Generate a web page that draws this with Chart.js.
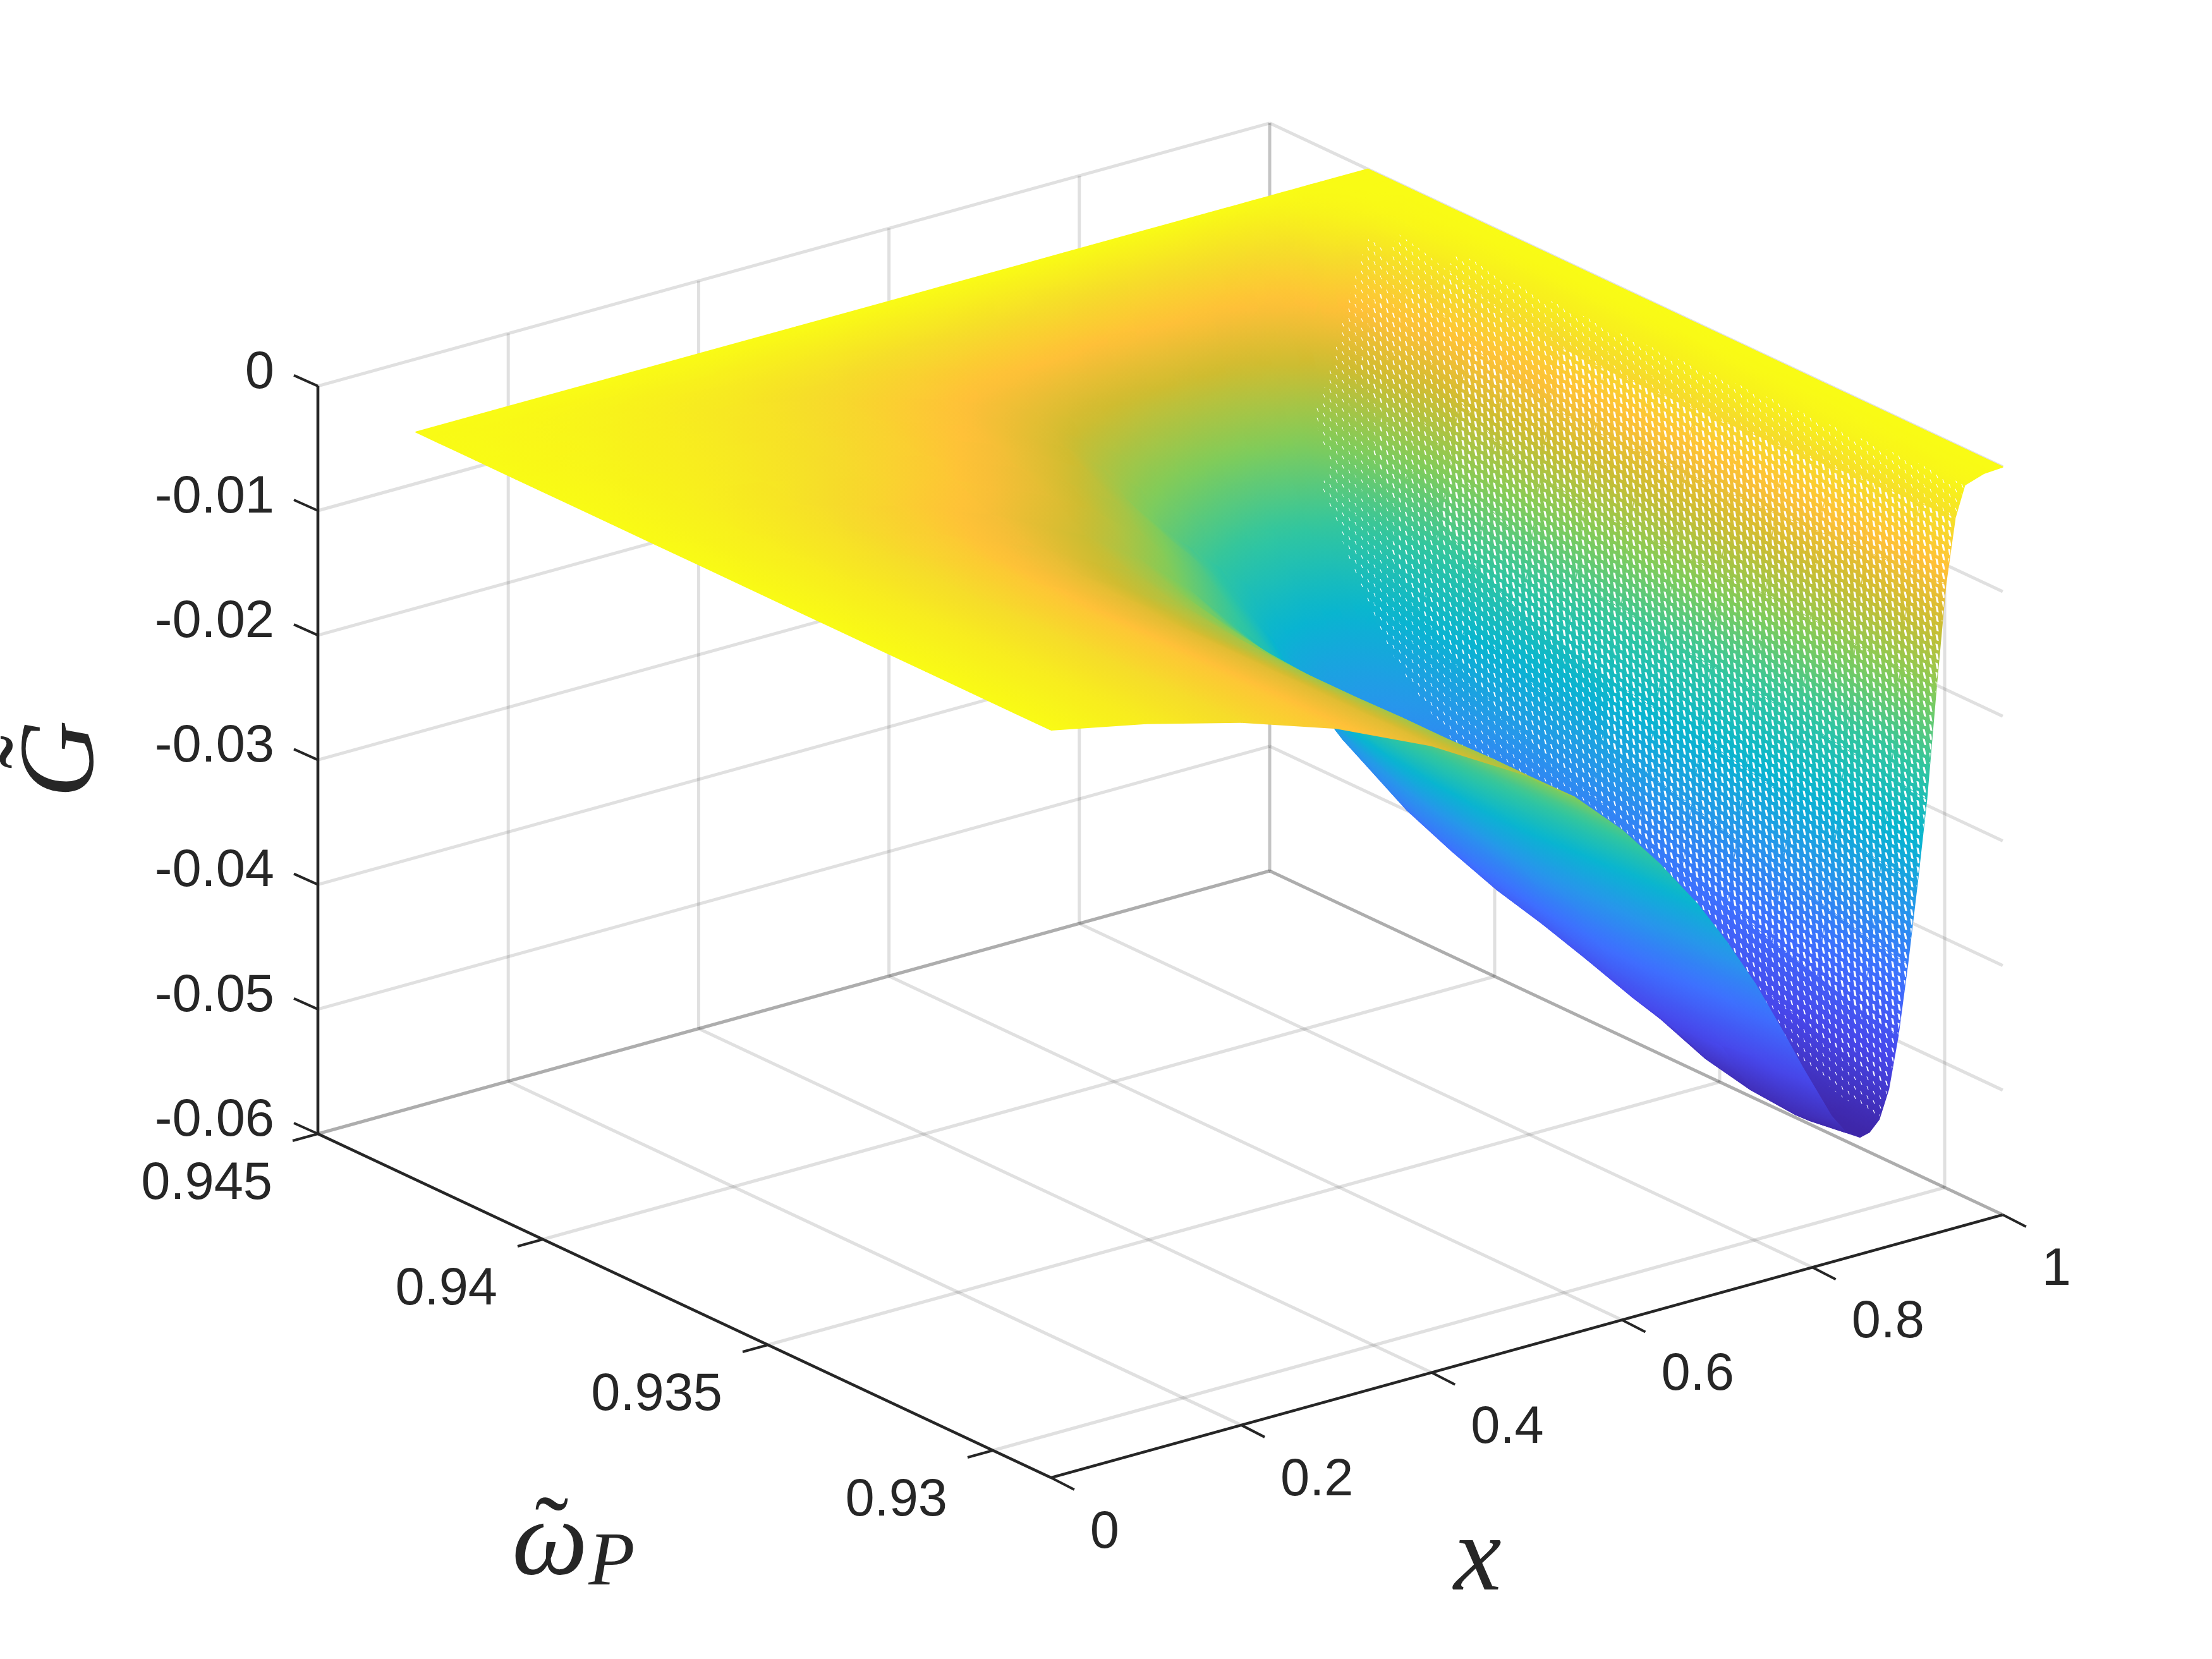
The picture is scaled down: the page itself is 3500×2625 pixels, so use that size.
<!DOCTYPE html>
<html>
<head>
<meta charset="utf-8">
<style>body{margin:0;background:#fff}canvas{display:block}</style>
<script src="https://cdn.jsdelivr.net/npm/chart.js@4/dist/chart.umd.min.js"></script>
</head>
<body>
<canvas id="c" width="3500" height="2625"></canvas>
<script>
// ── data ──
const xNodes = [0,.1,.2,.3,.4,.5,.55,.6,.64,.68,.71,.74,.77,.79,.82,.835,.85,.86,.87,.88,.89,.90,.91,.92,.93,.94,.95,.96,.98,1];
const wNodes = [.92871,.9295,.9305,.9315,.9325,.9335,.9345,.9355,.9365,.9375,.9385,.9393,.94,.9406,.9411,.9415,.9418,.9421,.9423,.9425,.9427,.94282];
const gValues = [
 [0,-.0016,-.0036,-.0062,-.0097,-.0142,-.0170,-.0207,-.0243,-.0284,-.0320,-.0360,-.0406,-.0438,-.0483,-.0499,-.0506,-.0504,-.0496,-.0474,-.0433,-.0378,-.0316,-.0250,-.0163,-.0082,-.0030,-.0006,-.0001,0],
 [0,-.0016,-.0036,-.0062,-.0097,-.0142,-.0171,-.0208,-.0245,-.0287,-.0324,-.0365,-.0412,-.0445,-.0495,-.0503,-.0505,-.0502,-.0493,-.0468,-.0428,-.0373,-.0312,-.0246,-.0160,-.0084,-.0032,-.0006,-.0001,0],
 [0,-.0016,-.0036,-.0062,-.0097,-.0143,-.0172,-.0210,-.0248,-.0290,-.0328,-.0370,-.0418,-.0450,-.0492,-.0498,-.0497,-.0491,-.0480,-.0453,-.0416,-.0363,-.0304,-.0240,-.0158,-.0085,-.0033,-.0007,-.0001,0],
 [0,-.0016,-.0036,-.0062,-.0097,-.0143,-.0173,-.0212,-.0251,-.0293,-.0331,-.0373,-.0421,-.0453,-.0484,-.0488,-.0487,-.0479,-.0468,-.0441,-.0405,-.0354,-.0296,-.0234,-.0154,-.0087,-.0036,-.0008,-.0001,0],
 [0,-.0016,-.0036,-.0062,-.0097,-.0144,-.0174,-.0213,-.0253,-.0295,-.0332,-.0373,-.0418,-.0445,-.0469,-.0472,-.0470,-.0464,-.0452,-.0427,-.0392,-.0343,-.0288,-.0228,-.0152,-.0089,-.0038,-.0009,-.0001,0],
 [0,-.0016,-.0036,-.0062,-.0097,-.0144,-.0174,-.0213,-.0252,-.0293,-.0329,-.0366,-.0408,-.0432,-.0455,-.0456,-.0453,-.0447,-.0436,-.0412,-.0380,-.0332,-.0280,-.0224,-.0152,-.0090,-.0040,-.0010,-.0001,0],
 [0,-.0016,-.0036,-.0062,-.0097,-.0143,-.0173,-.0212,-.0249,-.0288,-.0322,-.0356,-.0396,-.0420,-.0441,-.0441,-.0437,-.0430,-.0420,-.0397,-.0368,-.0323,-.0274,-.0219,-.0152,-.0090,-.0041,-.0012,-.0001,0],
 [0,-.0016,-.0035,-.0061,-.0095,-.0140,-.0170,-.0208,-.0244,-.0282,-.0314,-.0348,-.0387,-.0410,-.0430,-.0427,-.0422,-.0414,-.0405,-.0383,-.0356,-.0314,-.0268,-.0212,-.0150,-.0091,-.0042,-.0013,-.0002,0],
 [0,-.0015,-.0034,-.0059,-.0093,-.0136,-.0164,-.0200,-.0235,-.0272,-.0303,-.0336,-.0375,-.0396,-.0415,-.0411,-.0405,-.0397,-.0388,-.0367,-.0342,-.0303,-.0260,-.0207,-.0148,-.0091,-.0043,-.0014,-.0002,0],
 [0,-.0014,-.0032,-.0056,-.0087,-.0128,-.0155,-.0190,-.0224,-.0260,-.0289,-.0320,-.0358,-.0380,-.0398,-.0394,-.0388,-.0380,-.0370,-.0350,-.0325,-.0288,-.0248,-.0197,-.0142,-.0088,-.0042,-.0014,-.0002,0],
 [0,-.0012,-.0028,-.0050,-.0078,-.0116,-.0142,-.0175,-.0207,-.0240,-.0268,-.0300,-.0336,-.0357,-.0372,-.0368,-.0362,-.0354,-.0345,-.0325,-.0300,-.0266,-.0228,-.0180,-.0130,-.0080,-.0038,-.0014,-.0002,0],
 [0,-.0010,-.0023,-.0040,-.0064,-.0098,-.0122,-.0152,-.0183,-.0215,-.0244,-.0276,-.0312,-.0332,-.0345,-.0341,-.0336,-.0328,-.0318,-.0298,-.0275,-.0242,-.0205,-.0160,-.0112,-.0067,-.0030,-.0012,-.0002,0],
 [0,-.0009,-.0020,-.0035,-.0056,-.0087,-.0109,-.0135,-.0163,-.0195,-.0222,-.0252,-.0284,-.0300,-.0310,-.0306,-.0300,-.0292,-.0282,-.0262,-.0240,-.0208,-.0172,-.0132,-.0090,-.0052,-.0023,-.0010,-.0002,0],
 [0,-.0008,-.0018,-.0031,-.0050,-.0078,-.0097,-.0120,-.0150,-.0185,-.0206,-.0228,-.0248,-.0258,-.0265,-.0261,-.0255,-.0247,-.0238,-.0220,-.0200,-.0172,-.0140,-.0104,-.0068,-.0038,-.0016,-.0007,-.0001,0],
 [0,-.0007,-.0016,-.0028,-.0046,-.0072,-.0090,-.0110,-.0134,-.0160,-.0178,-.0195,-.0210,-.0218,-.0225,-.0221,-.0215,-.0207,-.0198,-.0183,-.0165,-.0140,-.0112,-.0080,-.0050,-.0028,-.0012,-.0005,-.0001,0],
 [0,-.0006,-.0015,-.0026,-.0043,-.0067,-.0083,-.0100,-.0120,-.0140,-.0155,-.0168,-.0180,-.0186,-.0190,-.0186,-.0180,-.0173,-.0165,-.0151,-.0135,-.0112,-.0085,-.0058,-.0035,-.0018,-.0008,-.0004,-.0001,0],
 [0,-.0006,-.0014,-.0024,-.0040,-.0062,-.0077,-.0092,-.0107,-.0122,-.0134,-.0145,-.0152,-.0155,-.0155,-.0149,-.0140,-.0134,-.0126,-.0113,-.0098,-.0068,-.0035,-.0021,-.0012,-.0008,-.0005,-.0002,-.0001,0],
 [0,-.0005,-.0012,-.0021,-.0034,-.0054,-.0067,-.0080,-.0093,-.0105,-.0114,-.0122,-.0126,-.0128,-.0125,-.0118,-.0110,-.0103,-.0095,-.0083,-.0070,-.0045,-.0022,-.0014,-.0008,-.0005,-.0003,-.0001,0,0],
 [0,-.0004,-.0010,-.0018,-.0029,-.0046,-.0057,-.0068,-.0079,-.0088,-.0095,-.0100,-.0102,-.0103,-.0098,-.0091,-.0082,-.0075,-.0068,-.0058,-.0046,-.0029,-.0014,-.0009,-.0005,-.0003,-.0002,-.0001,0,0],
 [0,-.0003,-.0007,-.0012,-.0020,-.0032,-.0040,-.0048,-.0056,-.0062,-.0067,-.0070,-.0072,-.0072,-.0066,-.0059,-.0052,-.0046,-.0040,-.0032,-.0024,-.0015,-.0008,-.0005,-.0003,-.0002,-.0001,0,0,0],
 [0,-.0001,-.0002,-.0004,-.0007,-.0011,-.0014,-.0017,-.0020,-.0023,-.0025,-.0027,-.0028,-.0028,-.0024,-.0021,-.0018,-.0015,-.0012,-.0009,-.0006,-.0004,-.0002,-.0001,-.0001,0,0,0,0,0],
 [0,0,0,0,0,0,0,0,0,0,0,0,0,0,0,0,0,0,0,0,0,0,0,0,0,0,0,0,0,0]
];
const xTicks = [0,.2,.4,.6,.8,1];
const xTickLabels = ['0','0.2','0.4','0.6','0.8','1'];
const wTicks = [.945,.94,.935,.93];
const wTickLabels = ['0.945','0.94','0.935','0.93'];
const gTicks = [0,-.01,-.02,-.03,-.04,-.05,-.06];
const gTickLabels = ['0','-0.01','-0.02','-0.03','-0.04','-0.05','-0.06'];
const wMin = .92871, wMax = .945, gMin = -.06, gMax = 0;
const surfMin = -.0506;
const parulaPos = [0,.111,.222,.333,.444,.555,.667,.778,.86,.93,1];
const parula = ['#3E26A8','#4747EB','#3E6FFF','#2796EB','#08B5D0','#31C69F','#81CC59','#D0BC30','#FFC038','#F6DC2A','#F9FB15'];

const INK = '#262626';
const GRID = 'rgba(38,38,38,0.14)';
const EDGE = 'rgba(38,38,38,0.27)';

// fixed MATLAB view, orthographic
function project(x, w, g) {
  const d = wMax - w;
  return { x: 503 + 1506 * x + 71200 * d, y: 1794 - 416 * x + 33400 * d - (g - gMin) * 19720 };
}

function parseHex(h) { return [1,3,5].map(i => parseInt(h.substr(i, 2), 16)); }
const paruRgb = parula.map(parseHex);
function colorAt(g) {
  const t = Math.min(1, Math.max(0, (g - surfMin) / (0 - surfMin)));
  let i = 0;
  while (i < parulaPos.length - 2 && t > parulaPos[i + 1]) i++;
  const f = (t - parulaPos[i]) / (parulaPos[i + 1] - parulaPos[i]);
  const c = paruRgb[i].map((v, k) => Math.round(v + (paruRgb[i + 1][k] - v) * f));
  return `rgb(${c[0]},${c[1]},${c[2]})`;
}

// gradient across one cell, along the direction g changes fastest on screen
function cellPaint(ctx, pts, gs) {
  const cx = pts.reduce((s, p) => s + p.x, 0) / 4, cy = pts.reduce((s, p) => s + p.y, 0) / 4;
  const gc = gs.reduce((s, v) => s + v, 0) / 4;
  const ux = pts[2].x - pts[0].x, uy = pts[2].y - pts[0].y, du = gs[2] - gs[0];
  const vx = pts[3].x - pts[1].x, vy = pts[3].y - pts[1].y, dv = gs[3] - gs[1];
  const det = ux * vy - uy * vx;
  if (Math.abs(det) < 200) return colorAt(gc);
  const a = (du * vy - dv * uy) / det, b = (dv * ux - du * vx) / det;
  const n2 = a * a + b * b;
  if (n2 < 1e-16) return colorAt(gc);
  const lo = Math.min(...gs), hi = Math.max(...gs);
  const x0 = cx + (lo - gc) * a / n2, y0 = cy + (lo - gc) * b / n2;
  const x1 = cx + (hi - gc) * a / n2, y1 = cy + (hi - gc) * b / n2;
  const grad = ctx.createLinearGradient(x0, y0, x1, y1);
  for (let k = 0; k <= 4; k++) grad.addColorStop(k / 4, colorAt(lo + (hi - lo) * k / 4));
  return grad;
}

// the white holes the fine mesh leaves on its steep faces
function gapPattern(ctx, hw, hh) {
  const tile = document.createElement('canvas');
  tile.width = 20; tile.height = 15;
  const t = tile.getContext('2d');
  t.fillStyle = '#fff';
  const rhomb = (cx, cy) => {
    t.beginPath();
    t.moveTo(cx - hw - 1, cy - hh);
    t.lineTo(cx + hw - 1, cy - hh * 0.8);
    t.lineTo(cx + hw + 1, cy + hh);
    t.lineTo(cx - hw + 1, cy + hh * 0.8);
    t.closePath(); t.fill();
  };
  [[5, 3.75], [15, 11.25], [5, 18.75], [15, -3.75]].forEach(p => rhomb(p[0], p[1]));
  return ctx.createPattern(tile, 'repeat');
}

const canvas = document.getElementById('c');
const ctx2d = canvas.getContext('2d');
const gaps = [gapPattern(ctx2d, .7, 3), gapPattern(ctx2d, 1.2, 4.2), gapPattern(ctx2d, 1.7, 5.5)];

const datasets = [];
let paintOrder = 1e6;
function addLine(pts, color, width) {
  datasets.push({ type: 'scatter', data: pts, showLine: true, pointRadius: 0, borderColor: color, borderWidth: width, fill: false, order: paintOrder--, clip: false, borderCapStyle: 'butt' });
}

// walls and floor grid
xTicks.forEach(t => {
  addLine([project(t, wMax, gMin), project(t, wMin, gMin)], t === 1 ? EDGE : GRID, 5);
  addLine([project(t, wMax, gMin), project(t, wMax, gMax)], t === 1 ? EDGE : GRID, 5);
});
wTicks.forEach(t => {
  addLine([project(0, t, gMin), project(1, t, gMin)], t === wMax ? EDGE : GRID, 5);
  if (t !== wMax) addLine([project(1, t, gMin), project(1, t, gMax)], GRID, 5);
});
gTicks.forEach(t => {
  addLine([project(0, wMax, t), project(1, wMax, t)], GRID, 5);
  addLine([project(1, wMax, t), project(1, wMin, t)], GRID, 5);
});

// surface, far cells first
for (let j = wNodes.length - 2; j >= 0; j--) {
  for (let i = xNodes.length - 2; i >= 0; i--) {
    const gs = [gValues[j][i], gValues[j][i + 1], gValues[j + 1][i + 1], gValues[j + 1][i]];
    const ws = [wNodes[j], wNodes[j], wNodes[j + 1], wNodes[j + 1]];
    const xs = [xNodes[i], xNodes[i + 1], xNodes[i + 1], xNodes[i]];
    const pts = gs.map((g, k) => project(xs[k], ws[k], g));
    const paint = c => cellPaint(c.chart.ctx, pts, gs);
    const closed = [...pts, pts[0]];
    datasets.push({ type: 'scatter', data: closed, showLine: true, pointRadius: 0, fill: 'shape', backgroundColor: paint, borderColor: paint, borderWidth: 2, borderJoinStyle: 'round', order: paintOrder--, clip: false });
    // mesh holes open up only where the wall towards x = 1 climbs fast
    const rise = ((gs[1] + gs[2]) - (gs[0] + gs[3])) / 2 / (xNodes[i + 1] - xNodes[i]);
    const level = rise > .45 ? 2 : rise > .3 ? 1 : rise > .15 ? 0 : -1;
    if (level >= 0 && wNodes[j + 1] <= .9415) {
      datasets.push({ type: 'scatter', data: closed, showLine: true, pointRadius: 0, fill: 'shape', backgroundColor: gaps[level], borderWidth: 0, order: paintOrder--, clip: false });
    }
  }
}

// dark axes and ticks
addLine([project(0, wMax, gMin), project(0, wMin, gMin)], INK, 4.5);
addLine([project(0, wMin, gMin), project(1, wMin, gMin)], INK, 4.5);
addLine([project(0, wMax, gMin), project(0, wMax, gMax)], INK, 4.5);
const shift = (p, dx, dy) => ({ x: p.x + dx, y: p.y + dy });
xTicks.forEach(t => { const p = project(t, wMin, gMin); addLine([p, shift(p, 37, 19)], INK, 4); });
wTicks.forEach(t => { const p = project(0, t, gMin); addLine([p, shift(p, -40, 11)], INK, 4); });
gTicks.forEach(t => { const p = project(0, wMax, t); addLine([p, shift(p, -38, -17)], INK, 4); });

const textLayer = {
  id: 'textLayer',
  afterDraw(chart) {
    const c = chart.ctx;
    c.save();
    c.fillStyle = INK;
    c.textBaseline = 'middle';
    c.font = '83px "Liberation Sans", Arial, sans-serif';
    c.textAlign = 'right';
    gTicks.forEach((t, i) => { const p = project(0, wMax, t); c.fillText(gTickLabels[i], p.x - 69, p.y - 20); });
    wTicks.forEach((t, i) => { const p = project(0, t, gMin); c.fillText(wTickLabels[i], p.x - 72, p.y + 80); });
    c.textAlign = 'left';
    xTicks.forEach((t, i) => { const p = project(t, wMin, gMin); c.fillText(xTickLabels[i], p.x + 62, p.y + 88); });
    // axis names
    c.textAlign = 'center';
    c.font = 'italic 170px "Liberation Serif", serif';
    c.fillText('x', 2338, 2470);
    c.fillText('\u03C9', 870, 2445);
    c.font = 'italic 120px "Liberation Serif", serif';
    c.fillText('P', 968, 2475);
    c.font = '160px "Liberation Serif", serif';
    c.fillText('\u02DC', 873, 2436);
    c.save();
    c.translate(98, 1201);
    c.rotate(-Math.PI / 2);
    c.font = 'italic 170px "Liberation Serif", serif';
    c.fillText('G', 0, 4);
    c.font = '160px "Liberation Serif", serif';
    c.fillText('\u02DC', 11, -32);
    c.restore();
    c.restore();
  }
};

new Chart(canvas, {
  type: 'scatter',
  data: { datasets },
  plugins: [textLayer],
  options: {
    responsive: false, animation: false, devicePixelRatio: 1,
    layout: { padding: 0 },
    events: [],
    plugins: { legend: { display: false }, tooltip: { enabled: false }, filler: { drawTime: 'beforeDatasetDraw' } },
    scales: {
      x: { type: 'linear', min: 0, max: 3500, display: false },
      y: { type: 'linear', min: 0, max: 2625, reverse: true, display: false }
    }
  }
});
</script>
</body>
</html>
